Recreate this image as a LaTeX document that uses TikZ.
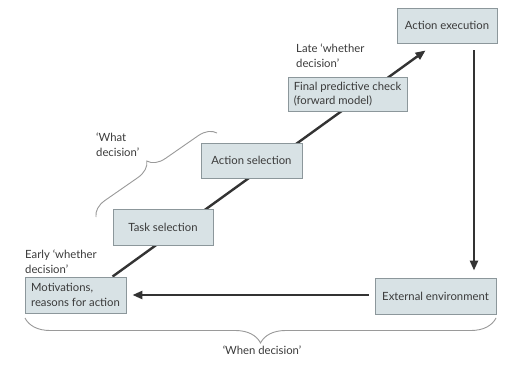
\documentclass[tikz,border=0pt]{standalone}
\usepackage{fontspec}
\setmainfont{Lato}
\usetikzlibrary{decorations.pathreplacing,arrows.meta,calc}
\definecolor{boxfill}{HTML}{D8E2E5}
\definecolor{boxline}{HTML}{8C979B}
\definecolor{ink}{HTML}{333333}
\definecolor{txt}{HTML}{3A3A3A}
\definecolor{brc}{HTML}{9A9A9A}
\pgfdeclarelayer{bg}
\pgfsetlayers{bg,main}
\begin{document}
\begin{tikzpicture}[x=1pt,y=-1pt,
  box/.style={draw=boxline,fill=boxfill,line width=0.9pt,rectangle,inner sep=0pt,
    font=\fontsize{11.3}{14.5}\selectfont,text=txt,align=left},
  lbl/.style={font=\fontsize{11.3}{15}\selectfont,text=txt,align=left,anchor=north west,inner sep=0pt},
  arr/.style={draw=ink,line width=2.4pt,-{Triangle[length=10pt,width=8pt]}},
  brace/.style={draw=brc,line width=0.9pt,decorate}]
\useasboundingbox (0,0) rectangle (508,369);
\node[box,minimum width=100pt,minimum height=35pt] (exec) at (447,25.5) {Action execution};
\node[box,minimum width=119pt,minimum height=34pt] (final) at (347.5,94) {Final predictive check\\(forward model)};
\node[box,minimum width=101pt,minimum height=35pt] (actsel) at (251.5,160.5) {Action selection};
\node[box,minimum width=100pt,minimum height=36pt] (task) at (163,227) {Task selection};
\node[box,minimum width=101pt,minimum height=36pt] (motiv) at (75.5,295) {Motivations,\\reasons for action};
\node[box,minimum width=121pt,minimum height=36pt] (ext) at (435.5,296) {External environment};
\coordinate (diagstart) at ($(motiv.north west)+(88,0)$);
\coordinate (diagend) at ($(exec.south west)+(29,7)$);
\begin{pgfonlayer}{bg}
\fill[white] (0,0) rectangle (508,369);
\draw[arr] (diagstart) -- (diagend);
\end{pgfonlayer}
\draw[arr] ($(exec.south)+(27,7)$) -- ($(ext.north)+(38.5,-7)$);
\draw[arr] ($(ext.west)+(-6,-1)$) -- ($(motiv.east)+(6,0)$);
\node[lbl] (early) at (25,250) {Early ‘whether\\decision’};
\node[lbl] (late) at (296,44) {Late ‘whether\\decision’};
\node[lbl] (what) at (96,133) {‘What\\decision’};
\node[lbl,anchor=north] (when) at (262,346) {‘When decision’};
\coordinate (wb1) at (96,217);
\coordinate (wb2) at (217,133);
\draw[brace,decoration={brace,amplitude=17pt}] (wb1) -- (wb2);
\coordinate (hb1) at (496,318);
\coordinate (hb2) at (25,318);
\draw[brace,decoration={brace,amplitude=25pt}] (hb1) -- (hb2);
\end{tikzpicture}
\end{document}
